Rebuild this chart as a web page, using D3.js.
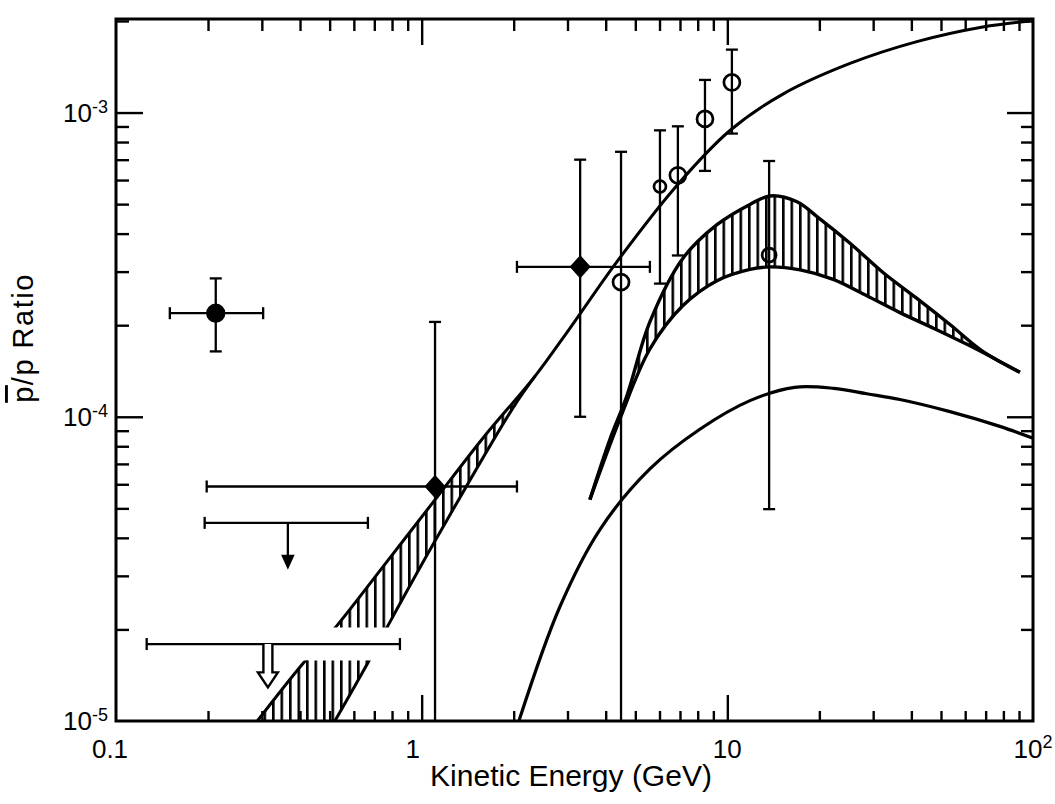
<!DOCTYPE html>
<html>
<head>
<meta charset="utf-8">
<script src="https://cdn.jsdelivr.net/npm/d3@7"></script>
<style>
body { margin: 0; background: #fff; }
svg { display: block; font-family: "Liberation Sans", Arial, sans-serif; }
</style>
</head>
<body>
<svg></svg>
<script>
var width = 1055, height = 804;
var svg = d3.select("svg").attr("width", width).attr("height", height);

var margin = {top: 19, right: 22, bottom: 83, left: 116};

// --- data (x = kinetic energy in GeV, y = pbar/p ratio) ---

// upper curve, also the top edge of the low energy band
var upperX = [0.29, 0.409, 0.52, 0.75, 1.1, 1.6, 2.35, 3.05, 4.35, 6.84, 10.2, 15.2, 25.2, 41.7, 68.5, 98];
var upperY = [1.0e-5, 1.545e-5, 2.02e-5, 3.23e-5, 5.3e-5, 8.6e-5, 1.36e-4, 1.95e-4, 3.23e-4, 5.76e-4, 8.73e-4, 1.15e-3, 1.45e-3, 1.71e-3, 1.91e-3, 2.0e-3];

// lower edge of the low energy band
var lowBandX = [0.52, 0.667, 0.77, 1.089, 1.99, 2.35];
var lowBandY = [1.0e-5, 1.555e-5, 2.03e-5, 3.8e-5, 1.07e-4, 1.36e-4];
var lowBandMaxX = 2.35;
var bandGap = [1.58e-5, 2.03e-5];   // blank strip in the low band

// middle band
var midUpperX = [3.55, 4.13, 4.69, 5.58, 7.16, 9.25, 11.86, 13.8, 16.9, 19.6, 25.2, 32.3, 41.7, 53.5, 68.5, 90.6];
var midUpperY = [5.34e-5, 8.43e-5, 1.17e-4, 2.05e-4, 3.32e-4, 4.28e-4, 4.99e-4, 5.32e-4, 5.09e-4, 4.56e-4, 3.72e-4, 2.98e-4, 2.45e-4, 2.01e-4, 1.64e-4, 1.40e-4];
var midLowerX = [3.55, 4.45, 5.58, 7.16, 9.25, 11.86, 13.8, 17.3, 22.2, 28.6, 36.7, 47.0, 60.8, 77.9, 90.6];
var midLowerY = [5.34e-5, 9.83e-5, 1.67e-4, 2.32e-4, 2.80e-4, 3.05e-4, 3.11e-4, 3.04e-4, 2.83e-4, 2.50e-4, 2.20e-4, 1.96e-4, 1.73e-4, 1.52e-4, 1.40e-4];

// lowest curve
var lowX = [2.08, 2.83, 3.83, 5.58, 8.13, 11.86, 16.6, 22.3, 28.6, 36.7, 53.5, 77.9, 100];
var lowY = [1.0e-5, 2.37e-5, 4.26e-5, 6.74e-5, 9.1e-5, 1.13e-4, 1.25e-4, 1.24e-4, 1.19e-4, 1.14e-4, 1.04e-4, 9.3e-5, 8.5e-5];

// filled circle
var circX = [0.212], circY = [2.19e-4], circXLo = [0.150], circXHi = [0.303], circYLo = [1.64e-4], circYHi = [2.85e-4];

// filled diamonds (null lower = bar runs to the axis)
var diaX = [1.106, 3.30];
var diaY = [5.9e-5, 3.11e-4];
var diaXLo = [0.198, 2.05];
var diaXHi = [2.05, 5.58];
var diaYLo = [null, 1.0e-4];
var diaYHi = [2.05e-4, 7.0e-4];

// open circles
var openX = [4.49, 6.02, 6.89, 8.45, 10.35, 13.7];
var openY = [2.77e-4, 5.71e-4, 6.22e-4, 9.53e-4, 1.256e-3, 3.40e-4];
var openYLo = [null, 2.74e-4, 3.39e-4, 6.43e-4, 8.53e-4, 4.97e-5];
var openYHi = [7.43e-4, 8.74e-4, 9.01e-4, 1.28e-3, 1.61e-3, 6.93e-4];
var openR = [8, 6, 8, 8, 8, 7];

// upper limits
var limY = [4.48e-5, 1.79e-5];
var limXLo = [0.195, 0.126];
var limXHi = [0.667, 0.849];
var limArrowX = [0.365, 0.314];
var limArrowTip = [3.21e-5, 1.29e-5];
var limHollow = [false, true];

var xTickLabels = ["0.1", "1", "10", "10"];
var yTickLabels = ["-5", "-4", "-3"];

// --- scales ---
var xScale = d3.scaleLog().domain([0.1, 100]).range([margin.left, width - margin.right]);
var yScale = d3.scaleLog().domain([1e-5, 2.03e-3]).range([height - margin.bottom, margin.top]);

var x0 = xScale.range()[0], x1 = xScale.range()[1];
var yb = yScale.range()[0], yt = yScale.range()[1];

var defs = svg.append("defs");
defs.append("clipPath").attr("id", "plotClip")
  .append("rect").attr("x", x0).attr("y", yt).attr("width", x1 - x0).attr("height", yb - yt);

var gapClip = defs.append("clipPath").attr("id", "gapClip");
gapClip.append("rect").attr("x", x0).attr("y", yt).attr("width", x1 - x0).attr("height", yScale(bandGap[1]) - yt);
gapClip.append("rect").attr("x", x0).attr("y", yScale(bandGap[0])).attr("width", x1 - x0).attr("height", yb - yScale(bandGap[0]));

defs.append("pattern").attr("id", "hatch")
  .attr("patternUnits", "userSpaceOnUse").attr("width", 8.5).attr("height", 8)
  .append("rect").attr("x", 0).attr("y", 0).attr("width", 2.6).attr("height", 8).attr("fill", "#000");

function pts(xs, ys) { return xs.map(function(v, i) { return [v, ys[i]]; }); }

var line = d3.line()
  .x(function(d) { return xScale(d[0]); })
  .y(function(d) { return yScale(d[1]); })
  .curve(d3.curveCatmullRom.alpha(0.5));

function bandPath(top, bottom) {
  var a = line(top);
  var b = line(bottom.slice().reverse());
  return a + "L" + b.slice(1) + "Z";
}

var plot = svg.append("g").attr("clip-path", "url(#plotClip)");

// low energy band + upper curve (with the blank strip)
var upper = pts(upperX, upperY);
var lowBand = pts(lowBandX, lowBandY);
var gapG = plot.append("g").attr("clip-path", "url(#gapClip)");
gapG.append("path")
  .attr("d", bandPath(upper.filter(function(d) { return d[0] <= lowBandMaxX; }), lowBand))
  .attr("fill", "url(#hatch)");
gapG.append("path").attr("d", line(lowBand)).attr("fill", "none").attr("stroke", "#000").attr("stroke-width", 3);
gapG.append("path").attr("d", line(upper)).attr("fill", "none").attr("stroke", "#000").attr("stroke-width", 3);

// middle band
var midUpper = pts(midUpperX, midUpperY);
var midLower = pts(midLowerX, midLowerY);
plot.append("path").attr("d", bandPath(midUpper, midLower)).attr("fill", "url(#hatch)");
plot.append("path").attr("d", line(midUpper)).attr("fill", "none").attr("stroke", "#000").attr("stroke-width", 3.4);
plot.append("path").attr("d", line(midLower)).attr("fill", "none").attr("stroke", "#000").attr("stroke-width", 3.4);

// lowest curve
plot.append("path").attr("d", line(pts(lowX, lowY))).attr("fill", "none").attr("stroke", "#000").attr("stroke-width", 3.2);

// --- axes (ticks point inward) ---
var xMajor = [0.1, 1, 10, 100];
var xMinor = xScale.ticks().filter(function(v) { return xMajor.indexOf(v) < 0; });
var yMajor = [1e-5, 1e-4, 1e-3];
var yMinor = yScale.ticks().filter(function(v) { return yMajor.indexOf(v) < 0 && v < 2.03e-3; });

function styleAxis(g) {
  g.select(".domain").remove();
  g.selectAll("line").attr("stroke", "#000").attr("stroke-width", 2.4);
  g.selectAll("text").remove();
}

svg.append("g").attr("transform", "translate(0," + yb + ")")
  .call(d3.axisBottom(xScale).tickValues(xMinor).tickSize(-10)).call(styleAxis);
svg.append("g").attr("transform", "translate(0," + yb + ")")
  .call(d3.axisBottom(xScale).tickValues([1, 10]).tickSize(-26)).call(styleAxis);
svg.append("g").attr("transform", "translate(0," + yt + ")")
  .call(d3.axisTop(xScale).tickValues(xMinor).tickSize(-12)).call(styleAxis);
svg.append("g").attr("transform", "translate(0," + yt + ")")
  .call(d3.axisTop(xScale).tickValues([1, 10]).tickSize(-26)).call(styleAxis);
svg.append("g").attr("transform", "translate(" + x0 + ",0)")
  .call(d3.axisLeft(yScale).tickValues(yMinor).tickSize(-13)).call(styleAxis);
svg.append("g").attr("transform", "translate(" + x0 + ",0)")
  .call(d3.axisLeft(yScale).tickValues([1e-4, 1e-3]).tickSize(-27)).call(styleAxis);
svg.append("g").attr("transform", "translate(" + x1 + ",0)")
  .call(d3.axisRight(yScale).tickValues(yMinor).tickSize(-12)).call(styleAxis);
svg.append("g").attr("transform", "translate(" + x1 + ",0)")
  .call(d3.axisRight(yScale).tickValues([1e-4, 1e-3]).tickSize(-26)).call(styleAxis);

// frame
svg.append("rect").attr("x", x0).attr("y", yt).attr("width", x1 - x0).attr("height", yb - yt)
  .attr("fill", "none").attr("stroke", "#000").attr("stroke-width", 3);

// tick labels
var xl = svg.append("g").attr("font-size", 26).attr("text-anchor", "middle");
xMajor.forEach(function(v, i) {
  var t = xl.append("text").attr("x", xScale(v) + (i === 0 ? -6 : (i === 1 ? -9 : 0))).attr("y", yb + 37).text(xTickLabels[i]);
  if (i === 3) t.append("tspan").attr("dy", -10).attr("font-size", 18).text("2");
});
var yl = svg.append("g").attr("font-size", 26).attr("text-anchor", "end");
yMajor.forEach(function(v, i) {
  var t = yl.append("text").attr("x", x0 - 8).attr("y", yScale(v) + 9).text("10");
  t.append("tspan").attr("dy", -9).attr("font-size", 18).text(yTickLabels[i]);
});

// axis titles
svg.append("text").attr("x", 571).attr("y", 786).attr("text-anchor", "middle")
  .attr("font-size", 30).text("Kinetic Energy (GeV)");
var yt2 = svg.append("text").attr("transform", "translate(33,338) rotate(-90)")
  .attr("text-anchor", "middle").attr("font-size", 29).attr("letter-spacing", 1.5);
yt2.append("tspan").attr("text-decoration", "overline").text("p");
yt2.append("tspan").text("/p  Ratio");

// --- data points ---
var pg = svg.append("g").attr("stroke", "#000").attr("stroke-width", 2.3).attr("clip-path", "url(#plotClip)");
var cap = 6;

function vbar(xv, lo, hi) {
  var px = xScale(xv);
  var ylo = lo === null ? yb : yScale(lo);
  pg.append("line").attr("x1", px).attr("x2", px).attr("y1", yScale(hi)).attr("y2", ylo);
  pg.append("line").attr("x1", px - cap).attr("x2", px + cap).attr("y1", yScale(hi)).attr("y2", yScale(hi));
  if (lo !== null) pg.append("line").attr("x1", px - cap).attr("x2", px + cap).attr("y1", ylo).attr("y2", ylo);
}
function hbar(yv, lo, hi) {
  var py = yScale(yv);
  pg.append("line").attr("x1", xScale(lo)).attr("x2", xScale(hi)).attr("y1", py).attr("y2", py);
  pg.append("line").attr("x1", xScale(lo)).attr("x2", xScale(lo)).attr("y1", py - cap).attr("y2", py + cap);
  pg.append("line").attr("x1", xScale(hi)).attr("x2", xScale(hi)).attr("y1", py - cap).attr("y2", py + cap);
}

circX.forEach(function(v, i) {
  vbar(v, circYLo[i], circYHi[i]);
  hbar(circY[i], circXLo[i], circXHi[i]);
  pg.append("circle").attr("cx", xScale(v)).attr("cy", yScale(circY[i])).attr("r", 8.5).attr("fill", "#000");
});

diaX.forEach(function(v, i) {
  vbar(v, diaYLo[i], diaYHi[i]);
  hbar(diaY[i], diaXLo[i], diaXHi[i]);
  pg.append("path").attr("transform", "translate(" + xScale(v) + "," + yScale(diaY[i]) + ")")
    .attr("d", "M0,-10L9,0L0,10L-9,0Z").attr("fill", "#000");
});

openX.forEach(function(v, i) {
  vbar(v, openYLo[i], openYHi[i]);
  pg.append("circle").attr("cx", xScale(v)).attr("cy", yScale(openY[i])).attr("r", openR[i])
    .attr("fill", "none").attr("stroke-width", 2.7);
});

limY.forEach(function(v, i) {
  hbar(v, limXLo[i], limXHi[i]);
  var ax = xScale(limArrowX[i]), y0 = yScale(v), tip = yScale(limArrowTip[i]);
  if (limHollow[i]) {
    pg.append("path")
      .attr("d", "M" + (ax - 4.5) + "," + y0 + "L" + (ax - 4.5) + "," + (tip - 15) + "L" + (ax - 10) + "," + (tip - 15) +
        "L" + ax + "," + tip + "L" + (ax + 10) + "," + (tip - 15) + "L" + (ax + 4.5) + "," + (tip - 15) + "L" + (ax + 4.5) + "," + y0)
      .attr("fill", "#fff").attr("stroke-width", 2.4);
  } else {
    pg.append("line").attr("x1", ax).attr("x2", ax).attr("y1", y0).attr("y2", tip - 8);
    pg.append("path").attr("d", "M" + (ax - 5) + "," + (tip - 11) + "L" + (ax + 5) + "," + (tip - 11) + "L" + ax + "," + tip + "Z")
      .attr("fill", "#000");
  }
});
</script>
</body>
</html>
